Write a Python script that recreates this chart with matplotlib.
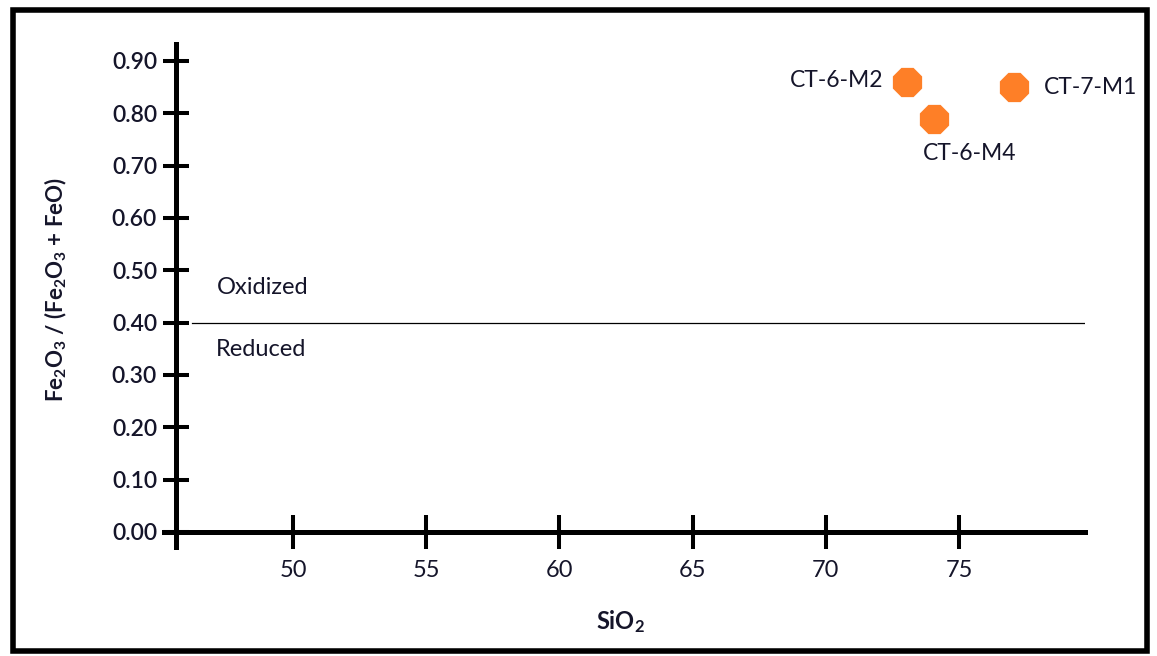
import numpy as np
import matplotlib
matplotlib.use("Agg")
import matplotlib.pyplot as plt
from matplotlib.patches import Rectangle

plt.rcParams['font.family'] = ['Lato', 'DejaVu Sans']
plt.rcParams['mathtext.fontset'] = 'custom'
plt.rcParams['mathtext.default'] = 'regular'

# data
samples = ["CT-6-M2", "CT-6-M4", "CT-7-M1"]
sio2 = [73.05, 74.05, 77.05]
ratio = [0.86, 0.79, 0.85]
xticks = [50, 55, 60, 65, 70, 75]
yticks = [0.0, 0.1, 0.2, 0.3, 0.4, 0.5, 0.6, 0.7, 0.8, 0.9]
threshold = 0.40

txt = '#15152a'

fig = plt.figure(figsize=(11.57, 6.56), dpi=100)
ax = fig.add_axes([0.1416, 0.1667, 0.7962, 0.7667])

ax.set_xlim(45.15, 79.73)
ax.set_ylim(-0.028, 0.933)

ax.scatter(sio2, ratio, s=520, marker='8', color='#fe7f27', zorder=3, linewidths=0)

# oxidized / reduced divider
ax.plot([46.2, 79.73], [threshold, threshold], color='black', lw=0.9)
ax.text(47.15, 0.468, "Oxidized", fontsize=17, color=txt, va='center', ha='left')
ax.text(47.1, 0.348, "Reduced", fontsize=17, color=txt, va='center', ha='left')

offsets = [(-17, 1, 'right', 'center'), (26, -25, 'center', 'center'), (22, 0, 'left', 'center')]
for name, x, y, (dx, dy, ha, va) in zip(samples, sio2, ratio, offsets):
    ax.annotate(name, (x, y), xytext=(dx, dy), textcoords='offset points',
                ha=ha, va=va, fontsize=16.5, color=txt)

for s in ['top', 'right']:
    ax.spines[s].set_visible(False)
ax.spines['left'].set_position(('data', 45.6))
ax.spines['bottom'].set_position(('data', 0.0))
ax.spines['left'].set_bounds(-0.028, 0.933)
ax.spines['bottom'].set_bounds(45.15, 79.73)
ax.spines['left'].set_linewidth(3.6)
ax.spines['bottom'].set_linewidth(3.6)

ax.set_xticks(xticks)
ax.set_xticklabels([str(v) for v in xticks])
ax.set_yticks(yticks)
ax.set_yticklabels(["%.2f" % v for v in yticks])
ax.tick_params(axis='x', direction='inout', length=24, width=2.9, pad=8,
               labelsize=17, labelcolor=txt)
ax.tick_params(axis='y', direction='inout', length=19, width=2.9, pad=4,
               labelsize=16.5, labelcolor=txt)
for lab in ax.get_yticklabels():
    lab.set_fontweight('semibold')

fig.text(0.536, 0.052, r'SiO$_2$', fontsize=17, fontweight='bold', color=txt,
         ha='center', va='center')
fig.text(0.048, 0.558, r'Fe$_2$O$_3$ / (Fe$_2$O$_3$ + FeO)', fontsize=16,
         fontweight='bold', color=txt, rotation=90, ha='center', va='center')

# outer frame
fig.patches.append(Rectangle((0.011, 0.008), 0.98, 0.977, transform=fig.transFigure,
                             fill=False, edgecolor='black', lw=4))

fig.savefig("out.png", dpi=100)
